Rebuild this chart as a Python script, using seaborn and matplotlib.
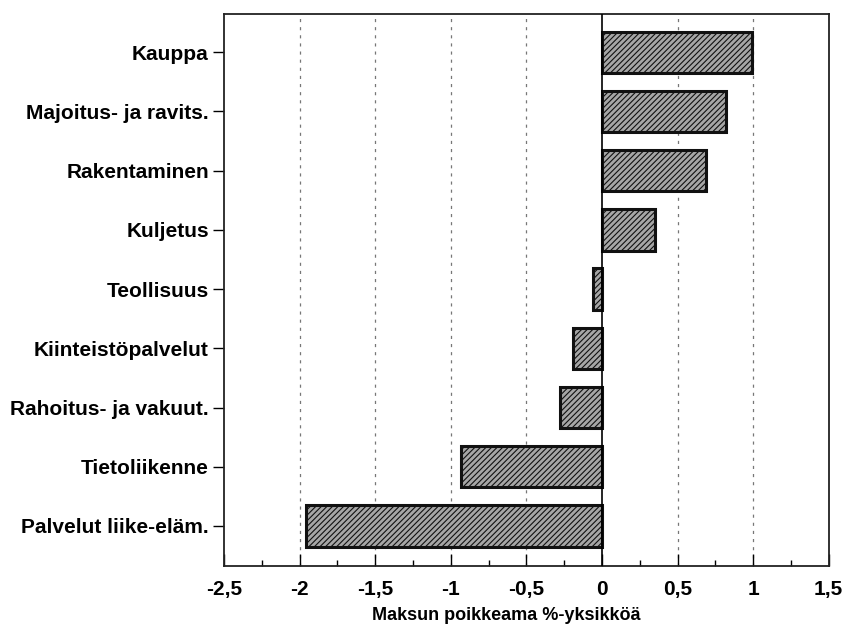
import matplotlib
matplotlib.use("Agg")
import matplotlib.pyplot as plt
import seaborn as sns
import pandas as pd
from matplotlib.ticker import MultipleLocator, FixedLocator

categories = ["Kauppa", "Majoitus- ja ravits.", "Rakentaminen", "Kuljetus",
              "Teollisuus", "Kiinteistöpalvelut", "Rahoitus- ja vakuut.",
              "Tietoliikenne", "Palvelut liike-eläm."]
values = [0.99, 0.82, 0.69, 0.35, -0.06, -0.19, -0.28, -0.93, -1.96]
xticks = [-2.5, -2, -1.5, -1, -0.5, 0, 0.5, 1, 1.5]
xticklabels = ["-2,5", "-2", "-1,5", "-1", "-0,5", "0", "0,5", "1", "1,5"]
xlabel = "Maksun poikkeama %-yksikköä"

df = pd.DataFrame({"cat": categories, "val": values})

sns.set_theme(style="white")
plt.rcParams["font.family"] = ["Liberation Sans", "DejaVu Sans"]
plt.rcParams["text.color"] = "black"
plt.rcParams["xtick.color"] = "black"
plt.rcParams["ytick.color"] = "black"
plt.rcParams["axes.labelcolor"] = "black"
plt.rcParams["hatch.color"] = "#4a4a4a"
plt.rcParams["hatch.linewidth"] = 0.8

fig = plt.figure(figsize=(8.49, 6.27), dpi=100)
ax = fig.add_axes([0.264, 0.097, 0.712, 0.881])

sns.barplot(data=df, x="val", y="cat", orient="h", order=categories,
            color="#a6a6a6", width=0.7, edgecolor="#111111", linewidth=2.2,
            saturation=1, ax=ax)
for p in ax.patches:
    p.set_hatch("//////")

ax.set_xlim(-2.5, 1.5)
ax.set_ylim(8.68, -0.65)

for g in [-2, -1.5, -1, -0.5, 0.5, 1]:
    ax.axvline(g, color="#777777", lw=0.9, ls=(0, (2.5, 4)), zorder=0)
ax.axvline(0, color="black", lw=1.2, zorder=3)

ax.xaxis.set_major_locator(FixedLocator(xticks))
ax.set_xticklabels(xticklabels, fontsize=15, fontweight="bold")
ax.xaxis.set_minor_locator(MultipleLocator(0.25))
ax.tick_params(axis="x", which="major", direction="in", length=9, width=1, pad=10, bottom=True)
ax.tick_params(axis="x", which="minor", direction="in", length=4, width=1, bottom=True)
ax.tick_params(axis="y", which="major", direction="out", length=8, width=1, left=True, pad=3)
for lab in ax.get_yticklabels():
    lab.set_fontsize(15)
    lab.set_fontweight("bold")

ax.set_ylabel("")
ax.set_xlabel(xlabel, fontsize=13, fontweight="bold")
ax.xaxis.set_label_coords(0.466, -0.073)

for s in ax.spines.values():
    s.set_visible(True)
    s.set_color("#222222")
    s.set_linewidth(1.3)

fig.savefig("out.png", dpi=100, facecolor="white")
